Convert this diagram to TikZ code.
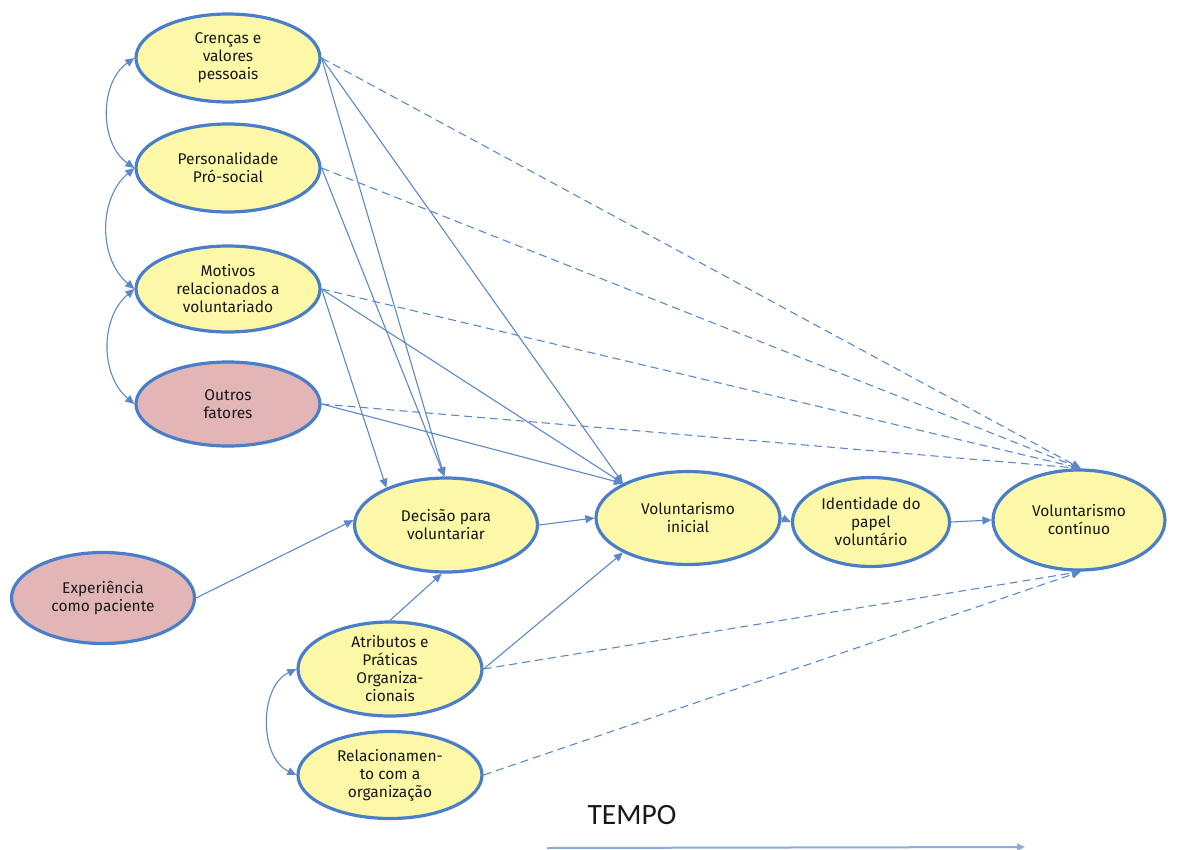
\documentclass[tikz,border=0pt]{standalone}
\usepackage{fontspec}
\setmainfont{Fira Sans}
\newfontfamily\tempofont{Carlito}
\usetikzlibrary{shapes.geometric,arrows.meta}
\definecolor{edgeblue}{RGB}{74,126,200}
\definecolor{lnk}{RGB}{92,135,205}
\definecolor{timeline}{RGB}{140,172,222}
\definecolor{yel}{RGB}{253,248,168}
\definecolor{pnk}{RGB}{226,182,182}
\begin{document}
\begin{tikzpicture}[x=1pt,y=-1pt,
 box/.style={ellipse,draw=edgeblue,line width=3.2pt,fill=yel,inner sep=0pt,
   minimum width=184pt,minimum height=88pt,align=center,
   font=\fontsize{15.5}{18}\selectfont,text=black!90},
 pinkbox/.style={box,fill=pnk},
 lk/.style={draw=lnk,line width=1.1pt,-{Triangle[length=9pt,width=8pt]}},
 dlk/.style={lk,dash pattern=on 8pt off 5pt},
 both/.style={draw=lnk,line width=1.1pt,{Triangle[length=9pt,width=8pt]}-{Triangle[length=9pt,width=8pt]}}
]
\useasboundingbox (0,0) rectangle (1177,850);

\node[box] (cren) at (228,58) {Crenças e\\valores\\pessoais};
\node[box] (pers) at (228,168) {Personalidade\\Pró-social};
\node[box,minimum height=86pt] (moti) at (228,289) {Motivos\\relacionados a\\voluntariado};
\node[pinkbox,minimum height=84pt] (outr) at (228,404) {Outros\\fatores};
\node[box,minimum width=183pt,minimum height=94pt] (deci) at (446,525) {Decisão para\\voluntariar};
\node[box,minimum height=93pt] (inic) at (688,518) {Voluntarismo\\inicial};
\node[box,minimum width=157pt,minimum height=89pt] (iden) at (871,522) {Identidade do\\papel\\voluntário};
\node[box,minimum width=172pt,minimum height=100pt] (cont) at (1079,520) {Voluntarismo\\contínuo};
\node[pinkbox,minimum width=183pt,minimum height=91pt] (expe) at (103,598) {Experiência\\como paciente};
\node[box,minimum height=94pt] (atri) at (390,669) {Atributos e\\Práticas\\Organiza-\\cionais};
\node[box,minimum height=87pt] (rela) at (390,775) {Relacionamen-\\to com a\\organização};

\node[font=\tempofont\fontsize{29.5}{30}\selectfont,text=black!90] (tempo) at (632,815) {TEMPO};
\coordinate (t0) at (547,848);
\coordinate (t1) at (1025,847);
\draw[draw=timeline,line width=2pt,-{Triangle[length=8pt,width=7pt,fill=lnk]}] (t0) -- (t1);

% left curved bidirectional arrows
\draw[both] (cren.west) to[bend right=55] (pers.west);
\draw[both] (pers.west) to[bend right=50] (moti.west);
\draw[both] (moti.west) to[bend right=50] (outr.west);
\draw[both] (atri.west) to[bend right=65] (rela.west);

% from Crencas
\draw[dlk] (cren.east) -- (cont.88);
\draw[lk] (cren.east) -- (deci.92);
\draw[lk] (cren.east) -- (inic.152);
% from Personalidade
\draw[dlk] (pers.east) -- (cont.88);
\draw[lk] (pers.east) -- (deci.92);
% from Motivos
\draw[dlk] (moti.east) -- (cont.88);
\draw[lk] (moti.east) -- (deci.148);
\draw[lk] (moti.east) -- (inic.152);
% from Outros
\draw[dlk] (outr.east) -- (cont.88);
\draw[lk] (outr.east) -- (inic.152);
% main chain
\draw[lk] (expe.east) -- (deci.177);
\draw[lk] (deci.east) -- (inic.west);
\draw[lk] (inic.east) -- (iden.west);
\draw[lk] (iden.east) -- (cont.west);
% organisational
\draw[lk] (atri.north) -- (deci.265);
\draw[lk] (atri.east) -- (inic.208);
\draw[dlk] (atri.east) -- (cont.272);
\draw[dlk] (rela.east) -- (cont.272);
\end{tikzpicture}
\end{document}
